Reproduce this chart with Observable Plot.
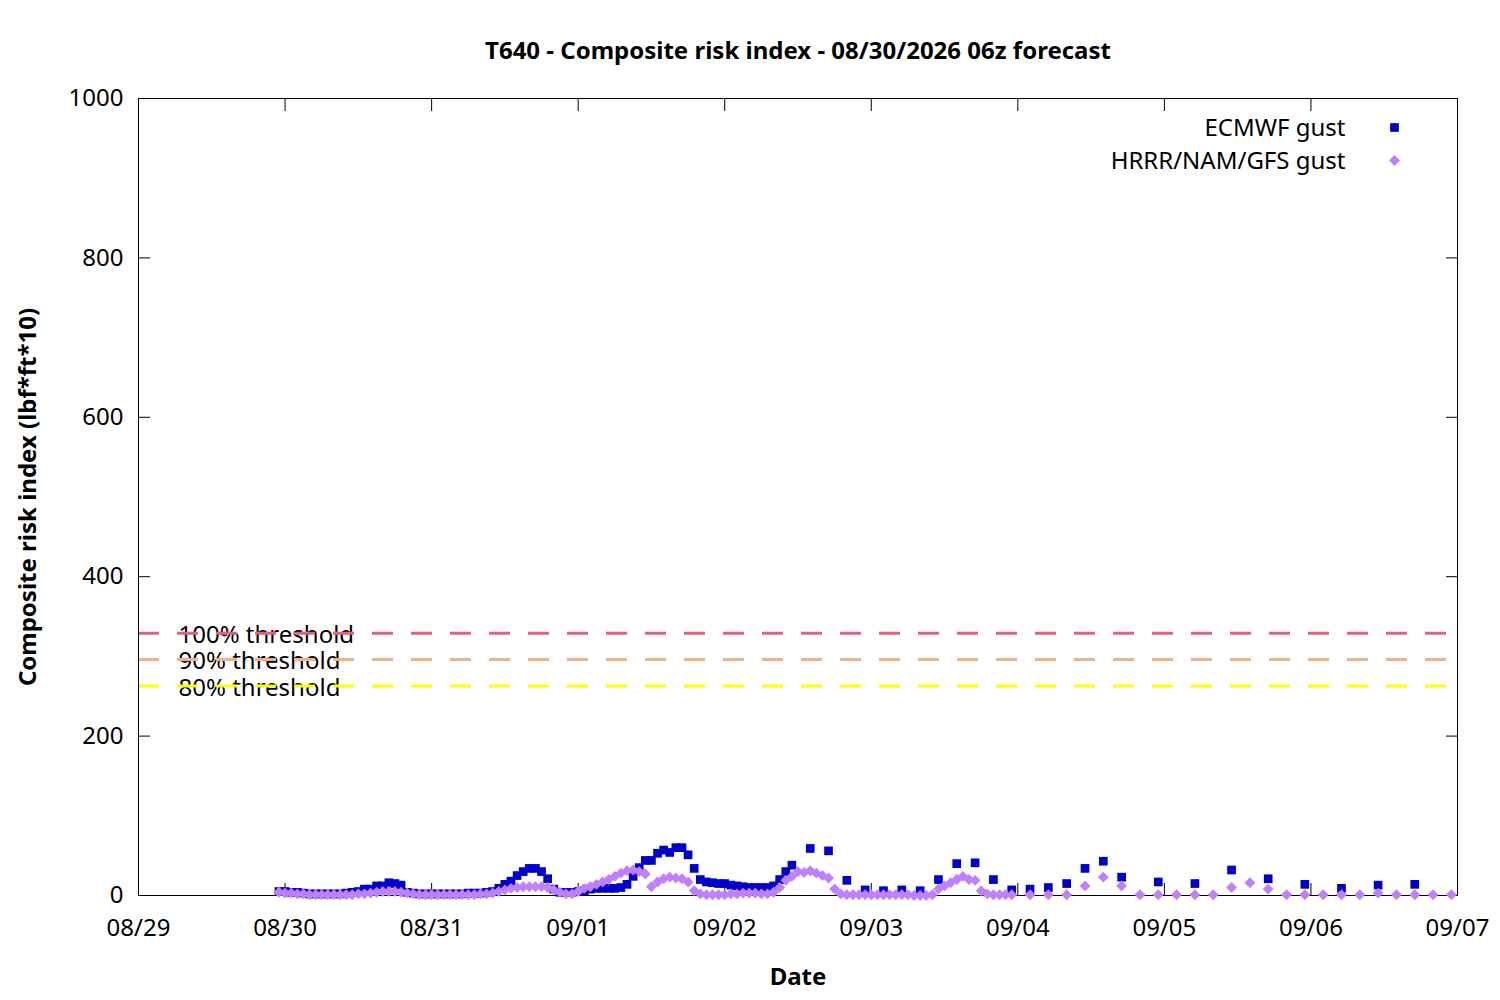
<!DOCTYPE html>
<html>
<head>
<meta charset="utf-8">
<script src="https://cdn.jsdelivr.net/npm/d3@7"></script>
<script src="https://cdn.jsdelivr.net/npm/@observablehq/plot@0.6"></script>
<style>
  html, body { margin: 0; padding: 0; background: #ffffff; }
  #chart { width: 1500px; height: 1000px; }
  svg { font-family: "Noto Sans", sans-serif; }
</style>
</head>
<body>
<div id="chart"></div>
<script>
// ---- Labels ----
const titleText = "T640 - Composite risk index - 08/30/2026 06z forecast";
const xLabel = "Date";
const yLabel = "Composite risk index (lbf*ft*10)";

// ---- X axis: hours since 08/29 00:00 ----
const dayTicks = [0, 24, 48, 72, 96, 120, 144, 168, 192, 216];
const dayLabels = ["08/29", "08/30", "08/31", "09/01", "09/02", "09/03", "09/04", "09/05", "09/06", "09/07"];
const yTicks = [0, 200, 400, 600, 800, 1000];

// ---- Series names / styles ----
const seriesNames = ["ECMWF gust", "HRRR/NAM/GFS gust"];
const seriesColors = ["#0000cd", "#bf80ff"];
const seriesSymbols = ["square", "diamond2"];

// ---- ECMWF gust ----
// hourly, from hour 23 (08/29 23:00) to hour 107
const ecmwfHourlyStart = 23;
const ecmwfHourly = [
  5, 5, 4, 4, 3, 2, 2, 2, 2, 2, 2, 3, 4, 5, 8, 8, 12, 12, 16, 15, 13, 4, 3, 2, 2,
  2, 2, 2, 2, 2, 2, 3, 3, 3, 4, 5, 9, 14, 18, 25, 30, 34, 34, 30, 21, 8, 4, 4, 4,
  5, 6, 8, 9, 9, 9, 9, 10, 14, 24, 35, 44, 44, 53, 57, 54, 60, 60, 51, 34, 20, 17, 16, 15,
  15, 13, 12, 11, 10, 10, 10, 10, 12, 20, 30, 38
];
// 3-hourly, from hour 110 to hour 161
const ecmwf3hStart = 110;
const ecmwf3h = [59, 56, 19, 7, 6, 7, 6, 20, 40, 41, 20, 7, 8, 10, 15, 34, 43, 23];
// 6-hourly, from hour 167 to hour 209
const ecmwf6hStart = 167;
const ecmwf6h = [17, 15, 32, 21, 14, 9, 13, 14];

// ---- HRRR/NAM/GFS gust ----
// hourly, from hour 23 to hour 143
const hrrrHourlyStart = 23;
const hrrrHourly = [
  4, 3, 3, 2, 2, 1, 1, 1, 1, 1, 1, 1, 1, 2, 2, 3, 4, 5, 5, 5, 4, 3, 2, 1, 1,
  1, 1, 1, 1, 1, 1, 1, 1, 2, 2, 3, 5, 7, 9, 10, 11, 11, 11, 11, 10, 7, 4, 2, 2,
  5, 9, 11, 14, 17, 20, 24, 28, 31, 32, 30, 27, 11, 17, 21, 23, 22, 21, 17, 6, 2, 1, 1, 1,
  1, 2, 2, 3, 3, 3, 2, 2, 4, 10, 19, 24, 30, 29, 31, 28, 25, 22, 8, 2, 1, 1, 1, 1,
  1, 1, 1, 1, 1, 1, 1, 0, 0, 0, 1, 8, 12, 16, 20, 24, 20, 19, 6, 2, 1, 1, 1, 1
];
// 3-hourly, from hour 146 to hour 215
const hrrr3hStart = 146;
const hrrr3h = [1, 1, 1, 12, 23, 12, 1, 1, 1, 1, 1, 10, 16, 8, 1, 1, 1, 1, 1, 3, 1, 1, 1, 1];

// ---- Thresholds ----
const thresholdNames = ["100% threshold", "90% threshold", "80% threshold"];
const thresholdValues = [329, 296, 263];
const thresholdColors = ["#e0607e", "#f5b182", "#ffff00"];

// ---- Build tables ----
function seg(values, start, step) {
  return values.map((v, i) => ({ t: start + i * step, v }));
}
const ecmwf = [
  ...seg(ecmwfHourly, ecmwfHourlyStart, 1),
  ...seg(ecmwf3h, ecmwf3hStart, 3),
  ...seg(ecmwf6h, ecmwf6hStart, 6)
];
const hrrr = [
  ...seg(hrrrHourly, hrrrHourlyStart, 1),
  ...seg(hrrr3h, hrrr3hStart, 3)
];
const thresholds = thresholdNames.map((name, i) => ({ name, value: thresholdValues[i], color: thresholdColors[i] }));
const legend = seriesNames.map((name, i) => ({ name, color: seriesColors[i], symbol: seriesSymbols[i], row: i }));

const FS = 24;
const R = 4.9;

const chart = Plot.plot({
  width: 1500,
  height: 1000,
  marginLeft: 138,
  marginRight: 43,
  marginTop: 98,
  marginBottom: 105,
  style: { fontFamily: "Noto Sans, sans-serif", background: "#ffffff", color: "#000000" },
  x: { domain: [0, 216], axis: null },
  y: { domain: [0, 1000], axis: null },
  marks: [
    // threshold labels
    Plot.text(thresholds, {
      y: "value", text: "name", frameAnchor: "left", dx: 40, dy: 2,
      textAnchor: "start", lineAnchor: "middle", fontSize: FS, fill: "#000000"
    }),
    // threshold dashed lines
    Plot.ruleY(thresholds, {
      y: "value", stroke: "color", strokeWidth: 3, strokeDasharray: "21,18"
    }),
    Plot.frame({ stroke: "#000000", strokeWidth: 1 }),
    // axes with inward ticks
    Plot.axisX(dayTicks, {
      anchor: "bottom", tickSize: -12, tickPadding: 35, fontSize: FS, label: null,
      tickFormat: d => dayLabels[dayTicks.indexOf(d)]
    }),
    Plot.axisX(dayTicks, { anchor: "top", tickSize: -12, fill: "none", label: null }),
    Plot.axisY(yTicks, {
      anchor: "left", tickSize: -12, tickPadding: 27, fontSize: FS, label: null,
      tickFormat: d => String(d)
    }),
    Plot.axisY(yTicks, { anchor: "right", tickSize: -12, fill: "none", label: null }),
    // data
    Plot.dot(ecmwf, { x: "t", y: "v", symbol: "square", r: R, fill: seriesColors[0], stroke: "none" }),
    Plot.dot(hrrr, { x: "t", y: "v", symbol: "diamond2", r: R, fill: seriesColors[1], stroke: "none" }),
    // legend
    Plot.text(legend, {
      text: "name", frameAnchor: "top-right", dx: -112, dy: 30,
      textAnchor: "end", lineAnchor: "middle", fontSize: FS, fill: "#000000",
      filter: d => d.row === 0
    }),
    Plot.text(legend, {
      text: "name", frameAnchor: "top-right", dx: -112, dy: 63,
      textAnchor: "end", lineAnchor: "middle", fontSize: FS, fill: "#000000",
      filter: d => d.row === 1
    }),
    Plot.dot(legend, {
      frameAnchor: "top-right", dx: -63, dy: 29, symbol: "symbol", fill: "color", r: R,
      filter: d => d.row === 0
    }),
    Plot.dot(legend, {
      frameAnchor: "top-right", dx: -63, dy: 62, symbol: "symbol", fill: "color", r: R,
      filter: d => d.row === 1
    }),
    // title and axis labels
    Plot.text([titleText], {
      text: d => d, frameAnchor: "top", dy: -47, lineAnchor: "middle",
      fontSize: FS, fontWeight: "bold", fill: "#000000"
    }),
    Plot.text([xLabel], {
      text: d => d, frameAnchor: "bottom", dy: 82, lineAnchor: "middle",
      fontSize: FS, fontWeight: "bold", fill: "#000000"
    }),
    Plot.text([yLabel], {
      text: d => d, frameAnchor: "left", dx: -110, rotate: -90,
      textAnchor: "middle", lineAnchor: "middle",
      fontSize: FS, fontWeight: "bold", fill: "#000000"
    })
  ]
});
document.getElementById("chart").appendChild(chart);
</script>
</body>
</html>
